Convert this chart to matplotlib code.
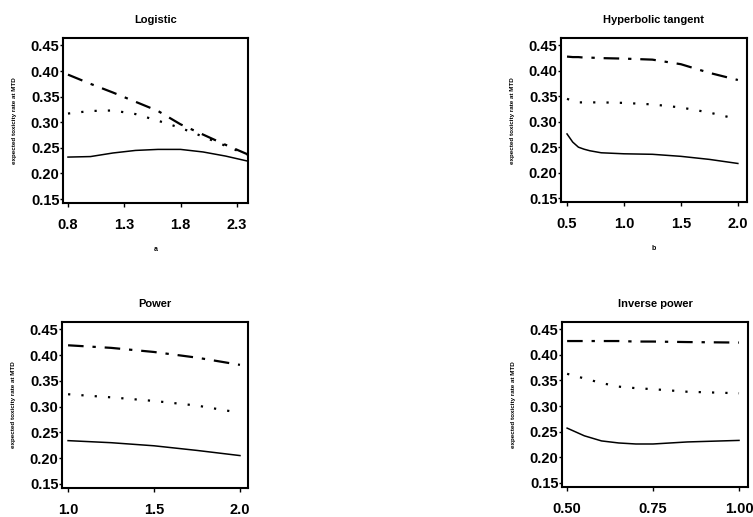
import matplotlib.pyplot as plt
import numpy as np

plt.rcParams['font.family'] = ['Liberation Sans', 'DejaVu Sans']
plt.rcParams['font.weight'] = 'bold'

# Logistic (x = a)
log_x = [0.8, 1.0, 1.2, 1.4, 1.6, 1.8, 2.0, 2.2, 2.4]
log_solid = [0.232, 0.233, 0.240, 0.245, 0.247, 0.247, 0.242, 0.234, 0.224]
log_dot = [0.317, 0.322, 0.323, 0.316, 0.303, 0.289, 0.272, 0.254, 0.236]
log_dashdot = [0.393, 0.375, 0.358, 0.340, 0.322, 0.296, 0.276, 0.256, 0.237]

# Hyperbolic tangent (x = b)
tanh_x = [0.5, 0.55, 0.6, 0.65, 0.7, 0.8, 1.0, 1.25, 1.5, 1.75, 2.0]
tanh_solid = [0.276, 0.260, 0.250, 0.246, 0.243, 0.239, 0.237, 0.236, 0.232, 0.226, 0.218]
tanh_dot = [0.345, 0.341, 0.338, 0.338, 0.338, 0.338, 0.337, 0.334, 0.328, 0.318, 0.305]
tanh_dashdot = [0.428, 0.427, 0.427, 0.426, 0.426, 0.425, 0.424, 0.422, 0.413, 0.396, 0.382]

# Power
pow_x = [1.0, 1.25, 1.5, 1.75, 2.0]
pow_solid = [0.234, 0.230, 0.224, 0.215, 0.205]
pow_dot = [0.324, 0.318, 0.311, 0.302, 0.288]
pow_dashdot = [0.419, 0.414, 0.406, 0.395, 0.381]

# Inverse power
inv_x = [0.5, 0.55, 0.6, 0.65, 0.7, 0.75, 0.85, 1.0]
inv_solid = [0.257, 0.242, 0.232, 0.228, 0.226, 0.226, 0.230, 0.233]
inv_dot = [0.363, 0.354, 0.345, 0.338, 0.335, 0.333, 0.328, 0.325]
inv_dashdot = [0.427, 0.427, 0.427, 0.427, 0.426, 0.426, 0.425, 0.424]

panels = [
    ("Logistic", "a", log_x, log_solid, log_dot, log_dashdot,
     [0.8, 1.3, 1.8, 2.3], ["0.8", "1.3", "1.8", "2.3"], (0.756, 2.40)),
    ("Hyperbolic tangent", "b", tanh_x, tanh_solid, tanh_dot, tanh_dashdot,
     [0.5, 1.0, 1.5, 2.0], ["0.5", "1.0", "1.5", "2.0"], (0.447, 2.08)),
    ("Power", None, pow_x, pow_solid, pow_dot, pow_dashdot,
     [1.0, 1.5, 2.0], ["1.0", "1.5", "2.0"], (0.965, 2.047)),
    ("Inverse power", None, inv_x, inv_solid, inv_dot, inv_dashdot,
     [0.5, 0.75, 1.0], ["0.50", "0.75", "1.00"], (0.485, 1.026)),
]

positions = [
    [0.0837, 0.607, 0.2457, 0.319],
    [0.745, 0.609, 0.247, 0.317],
    [0.0824, 0.056, 0.2470, 0.321],
    [0.7463, 0.058, 0.247, 0.319],
]

yticks = [0.15, 0.20, 0.25, 0.30, 0.35, 0.40, 0.45]

fig = plt.figure(figsize=(7.53, 5.17), dpi=100)

for (title, xlab, x, s, d, dd, xt, xtl, xlim), pos in zip(panels, positions):
    ax = fig.add_axes(pos)
    ax.plot(x, s, color='black', lw=1.1)
    ax.plot(x, d, color='black', lw=1.6, linestyle=(0, (1, 5)))
    ax.plot(x, dd, color='black', lw=1.6, linestyle=(0, (7, 4, 1.5, 4)))
    ax.set_xlim(*xlim)
    ax.set_ylim(0.142, 0.464)
    ax.set_xticks(xt)
    ax.set_xticklabels(xtl)
    ax.set_yticks(yticks)
    ax.set_yticklabels(["%.2f" % v for v in yticks])
    ax.tick_params(axis='y', labelsize=10.5, length=2, width=1, pad=0.5)
    ax.tick_params(axis='x', labelsize=10.5, length=3, width=1, pad=8)
    for sp in ax.spines.values():
        sp.set_linewidth(1.5)
    ax.set_title(title, fontsize=8, fontweight='bold', pad=11)
    ax.set_ylabel("expected toxicity rate at MTD", fontsize=4.5, fontweight='bold', labelpad=10)
    if xlab:
        ax.set_xlabel(xlab, fontsize=5, fontweight='bold', labelpad=10)

fig.savefig("out.png", dpi=100)
